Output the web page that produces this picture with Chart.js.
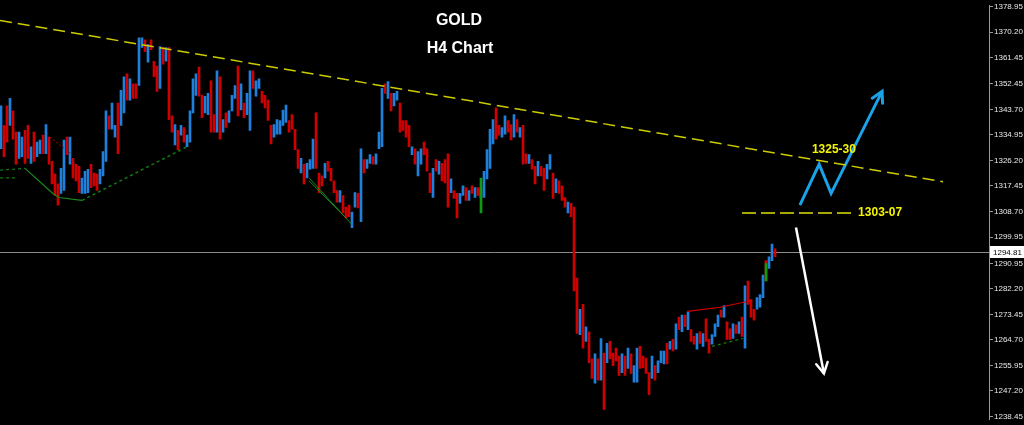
<!DOCTYPE html>
<html>
<head>
<meta charset="utf-8">
<title>GOLD H4 Chart</title>
<script src="https://cdn.jsdelivr.net/npm/chart.js@4.4.0/dist/chart.umd.min.js"></script>
<style>
  html, body { margin: 0; padding: 0; background: #000; }
  #wrap { width: 1024px; height: 425px; }
</style>
</head>
<body>
<div id="wrap"><canvas id="gold" width="1024" height="425"></canvas></div>
<script>
// H4 bars, oldest first (high / low / direction)
const barHigh = [
  1344.9,1338.2,1344.9,1347.5,1343.2,1335.9,1335.9,1334.2,1336.5,1338.2,
  1330.9,1335.9,1332.5,1333.2,1334.9,1338.5,1334.2,1325.9,1321.5,1318.2,
  1323.5,1333.2,1334.2,1334.2,1326.9,1324.9,1324.2,1320.2,1322.5,1323.2,
  1324.9,1321.9,1321.5,1323.2,1329.2,1343.2,1341.5,1345.9,1338.2,1345.9,
  1350.2,1354.9,1355.9,1354.2,1352.5,1352.5,1368.2,1368.2,1367.5,1365.9,
  1367.5,1360.2,1358.5,1365.2,1364.9,1364.9,1364.9,1341.5,1338.5,1336.5,
  1338.2,1337.5,1334.9,1343.2,1354.2,1355.9,1358.2,1348.5,1348.2,1349.2,
  1353.5,1341.9,1356.9,1354.9,1340.2,1342.5,1343.2,1348.5,1351.9,1358.5,
  1352.5,1345.9,1349.2,1356.9,1356.9,1353.5,1354.2,1349.9,1348.5,1346.9,
  1338.2,1338.5,1340.2,1339.9,1343.5,1345.2,1339.9,1341.9,1336.9,1329.9,
  1326.9,1324.9,1325.2,1326.5,1333.5,1342.5,1321.9,1320.9,1325.2,1325.9,
  1323.5,1319.2,1315.9,1315.9,1314.2,1310.2,1310.9,1308.5,1315.2,1314.9,
  1330.2,1326.5,1326.5,1328.2,1327.5,1328.5,1335.9,1350.9,1352.5,1353.2,
  1349.2,1349.2,1349.9,1345.9,1339.9,1339.9,1338.2,1330.9,1330.2,1329.2,
  1330.2,1332.5,1330.2,1321.9,1323.5,1326.5,1325.9,1325.2,1326.5,1328.5,
  1319.9,1315.9,1314.9,1314.9,1317.5,1316.9,1315.9,1317.5,1316.9,1316.9,
  1316.5,1322.5,1329.9,1336.9,1340.2,1344.2,1338.2,1337.5,1341.5,1339.9,
  1338.5,1341.9,1340.2,1337.5,1338.2,1328.5,1328.2,1326.5,1324.2,1325.9,
  1324.2,1323.5,1324.9,1328.2,1321.9,1319.9,1319.2,1317.5,1313.5,1311.9,
  1311.5,1310.2,1285.9,1275.2,1276.9,1269.2,1267.5,1258.2,1259.9,1258.2,
  1265.2,1260.2,1263.5,1264.2,1260.2,1261.9,1259.2,1259.9,1259.2,1261.9,
  1259.9,1255.9,1261.9,1262.5,1259.2,1258.5,1253.5,1259.2,1255.9,1257.5,
  1260.9,1260.9,1263.5,1264.2,1264.9,1270.2,1272.5,1273.2,1273.2,1274.2,
  1268.2,1265.9,1266.9,1267.5,1266.9,1271.9,1264.9,1266.5,1270.2,1273.2,
  1274.9,1276.5,1270.9,1268.5,1270.2,1269.9,1270.9,1272.5,1283.2,1284.9,
  1278.5,1275.2,1279.2,1280.2,1286.9,1291.9,1293.2,1297.5,1295.9
];
const barLow = [
  1330.2,1327.5,1332.5,1338.2,1333.5,1324.9,1326.9,1327.5,1325.2,1326.9,
  1325.2,1325.9,1327.5,1328.5,1328.5,1328.5,1324.9,1318.2,1314.2,1310.9,
  1314.9,1315.9,1328.2,1324.9,1320.2,1319.2,1315.2,1314.9,1314.9,1315.2,
  1316.9,1317.5,1315.9,1318.2,1320.9,1325.9,1336.9,1336.9,1334.2,1328.5,
  1338.2,1342.5,1346.9,1346.9,1347.5,1347.5,1351.9,1364.9,1363.5,1359.9,
  1364.2,1354.9,1349.9,1350.9,1359.2,1360.2,1340.2,1335.9,1331.5,1329.9,
  1334.9,1332.5,1330.9,1332.5,1342.5,1348.5,1348.2,1340.9,1342.5,1341.9,
  1335.9,1335.9,1335.9,1333.5,1335.9,1337.5,1339.2,1343.2,1347.5,1341.5,
  1343.5,1340.9,1341.9,1336.5,1350.9,1348.2,1350.9,1345.9,1344.2,1339.9,
  1331.9,1334.2,1335.2,1335.2,1338.2,1339.2,1335.9,1336.9,1329.9,1323.5,
  1321.9,1318.2,1320.2,1323.2,1323.5,1323.5,1315.2,1317.5,1320.2,1322.5,
  1319.2,1315.2,1311.9,1311.9,1308.2,1306.5,1306.9,1303.2,1310.2,1309.9,
  1305.2,1321.9,1323.5,1325.2,1324.9,1324.9,1330.2,1330.9,1349.2,1347.5,
  1343.2,1344.9,1346.9,1335.9,1336.5,1334.2,1330.9,1328.2,1324.9,1320.9,
  1324.9,1328.2,1322.5,1315.2,1313.5,1322.5,1321.5,1319.2,1318.5,1310.2,
  1315.2,1313.2,1306.5,1311.5,1314.2,1312.5,1312.5,1314.9,1313.5,1314.2,
  1313.5,1313.5,1319.9,1323.5,1331.9,1333.5,1334.9,1334.2,1335.2,1335.9,
  1333.2,1334.2,1335.9,1334.2,1324.9,1325.2,1325.2,1323.2,1318.2,1320.9,
  1320.9,1315.9,1319.9,1323.2,1313.2,1315.2,1314.9,1312.5,1310.2,1308.2,
  1306.9,1281.5,1266.9,1266.5,1261.9,1264.2,1256.9,1251.5,1249.9,1250.9,
  1250.9,1240.9,1256.9,1258.2,1255.9,1257.5,1252.5,1253.5,1252.5,1254.9,
  1253.2,1250.2,1250.2,1254.9,1255.2,1253.2,1245.9,1251.5,1250.9,1253.5,
  1256.9,1256.5,1256.5,1261.5,1260.9,1261.5,1268.2,1267.5,1269.2,1268.2,
  1264.2,1263.2,1261.5,1263.5,1262.5,1264.2,1260.2,1263.2,1265.9,1269.2,
  1272.5,1272.5,1264.9,1264.9,1265.2,1266.9,1266.9,1265.9,1261.9,1276.9,
  1272.5,1271.5,1275.2,1275.9,1279.2,1284.9,1289.2,1291.9,1293.2
];
const barUp = [
  1,0,0,1,0,0,1,1,0,0, 1,0,1,1,0,1,0,0,0,0, 1,1,0,1,0,0,0,1,1,1,
  0,0,0,1,1,1,0,1,1,0, 1,1,0,1,0,0,1,1,0,1, 0,0,0,1,0,1,0,0,1,0,
  1,0,1,1,1,1,0,0,1,1, 0,0,1,0,1,0,1,1,1,0, 1,0,1,1,0,1,1,0,0,0,
  0,1,1,1,1,1,0,0,0,0, 1,0,1,1,1,0,0,0,1,0, 0,0,0,1,0,0,0,1,1,0,
  1,0,1,1,0,1,1,1,0,1, 0,1,1,0,0,0,0,1,0,1, 1,0,0,0,1,0,1,0,0,0,
  1,0,0,1,1,0,1,0,1,0, 1,1,1,1,1,0,0,1,1,0, 0,1,0,1,0,0,1,0,0,1,
  0,0,1,1,0,1,0,0,0,1, 0,0,0,1,0,1,0,0,1,0, 1,0,1,0,0,0,0,1,0,1,
  0,1,1,0,0,0,0,1,0,1, 1,1,0,1,0,1,0,1,0,1, 0,0,1,0,1,0,0,1,1,1,
  0,1,0,0,1,0,1,0,1,0, 0,0,1,1,1,0,1,1,0
];

// green signal bars
const signalIdx = [160, 255];
const signalHigh = [1320.2, 1290.9];
const signalLow = [1308.2, 1284.9];

// right-hand price scale
const priceTicks = [1378.95, 1370.20, 1361.45, 1352.45, 1343.70, 1334.95, 1326.20, 1317.45,
  1308.70, 1299.95, 1290.95, 1282.20, 1273.45, 1264.70, 1255.95, 1247.20, 1238.45];
const lastPrice = 1294.81;

// drawn objects (bar index, price)
const trendX = [-0.33, 314];
const trendY = [1374.2, 1318.9];
const levelX = [247, 284.7];
const levelY = [1308.2, 1308.2];
const upPathX = [266.3, 272.7, 276.7, 293.7];
const upPathY = [1310.9, 1324.9, 1314.9, 1349.9];
const downPathX = [265, 274.3];
const downPathY = [1303.2, 1253.2];
const zoneText = ['1325-30', '1303-07'];
const zoneX = [270.3, 285.7];
const zoneY = [1329.9, 1308.2];

// indicator lines
const supA_X = [8, 17.3, 19.3, 27];
const supA_Y = [1323.5, 1314.9, 1313.5, 1312.5];
const supB_X = [27, 62];
const supB_Y = [1312.5, 1330.9];
const supC_X = [-0.3, 8];
const supC_Y = [1322.9, 1323.5];
const supD_X = [-0.3, 4.7];
const supD_Y = [1320.2, 1320.2];
const chanA_X = [102.7, 117];
const chanA_Y = [1320.2, 1304.2];
const chanB_X = [102.7, 115];
const chanB_Y = [1319.2, 1306.5];
const resA_X = [16.3, 23.7];
const resA_Y = [1334.2, 1328.2];
const resB_X = [228.7, 239.7, 250.3];
const resB_Y = [1274.5, 1275.9, 1278.2];
const supE_X = [237, 247.3];
const supE_Y = [1262.5, 1265.2];

const pts = (xs, ys) => xs.map((x, i) => ({ x: x, y: ys[i] }));

const lineSet = (xs, ys, color, width, dash, extra) => Object.assign({
  type: 'line',
  data: pts(xs, ys),
  borderColor: color,
  borderWidth: width,
  borderDash: dash,
  pointRadius: 0,
  fill: false,
  tension: 0,
  order: 1
}, extra || {});

const overlay = {
  id: 'overlay',
  beforeDatasetsDraw(chart) {
    const { ctx, chartArea, scales } = chart;
    const y = Math.round(scales.y.getPixelForValue(lastPrice)) + 0.5;
    ctx.save();
    ctx.strokeStyle = '#8c8c8c';
    ctx.lineWidth = 1;
    ctx.beginPath();
    ctx.moveTo(chartArea.left, y);
    ctx.lineTo(chartArea.right, y);
    ctx.stroke();
    ctx.restore();
  },
  afterDraw(chart) {
    const { ctx, chartArea, scales } = chart;
    ctx.save();

    // arrow heads at the end of the projected paths
    chart.data.datasets.forEach((ds, i) => {
      if (!ds.arrowHead) return;
      const p = chart.getDatasetMeta(i).data;
      const a = p[p.length - 2], b = p[p.length - 1];
      const ang = Math.atan2(b.y - a.y, b.x - a.x);
      ctx.strokeStyle = ds.borderColor;
      ctx.lineWidth = ds.borderWidth;
      ctx.lineCap = 'round';
      ctx.beginPath();
      ctx.moveTo(b.x - 12 * Math.cos(ang - 0.5), b.y - 12 * Math.sin(ang - 0.5));
      ctx.lineTo(b.x, b.y);
      ctx.lineTo(b.x - 12 * Math.cos(ang + 0.5), b.y - 12 * Math.sin(ang + 0.5));
      ctx.stroke();
    });

    // zone labels
    ctx.font = 'bold 12px "Liberation Sans", Arial, sans-serif';
    ctx.fillStyle = '#f4f400';
    ctx.textAlign = 'left';
    ctx.textBaseline = 'middle';
    zoneText.forEach((t, i) => {
      ctx.fillText(t, scales.x.getPixelForValue(zoneX[i]), scales.y.getPixelForValue(zoneY[i]));
    });

    // title
    ctx.fillStyle = '#ffffff';
    ctx.textAlign = 'center';
    ctx.font = 'bold 16px "Liberation Sans", Arial, sans-serif';
    ctx.fillText('GOLD', 459, 21);
    ctx.fillText('H4 Chart', 460, 49);

    // current price box
    const py = Math.round(scales.y.getPixelForValue(lastPrice));
    ctx.fillStyle = '#ffffff';
    ctx.fillRect(chartArea.right + 1, py - 6, 35, 12);
    ctx.fillStyle = '#000000';
    ctx.textAlign = 'left';
    ctx.font = '8px "Liberation Sans", Arial, sans-serif';
    ctx.fillText(lastPrice.toFixed(2), chartArea.right + 4, py + 0.5);
    ctx.restore();
  }
};

const blue = '#1f80dc';
const red = '#d00000';

new Chart(document.getElementById('gold'), {
  type: 'bar',
  data: {
    datasets: [
      lineSet(trendX, trendY, '#cccc00', 1.5, [12, 6]),
      lineSet(levelX, levelY, '#a8a800', 2, [14, 5]),
      lineSet(upPathX, upPathY, '#1aa2e8', 3, [], { arrowHead: true }),
      lineSet(downPathX, downPathY, '#ffffff', 2.5, [], { arrowHead: true }),
      lineSet(supA_X, supA_Y, '#1c8a1c', 1.2, []),
      lineSet(supB_X, supB_Y, '#137a13', 1.5, [3, 3]),
      lineSet(supC_X, supC_Y, '#137a13', 1.2, [3, 3]),
      lineSet(supD_X, supD_Y, '#137a13', 1.2, [3, 3]),
      lineSet(chanA_X, chanA_Y, '#1a8a1a', 1, []),
      lineSet(chanB_X, chanB_Y, '#1a8a1a', 1, []),
      lineSet(resA_X, resA_Y, '#c00000', 1, [2, 2]),
      lineSet(resB_X, resB_Y, '#d00000', 1.2, []),
      lineSet(supE_X, supE_Y, '#137a13', 1.2, [3, 3]),
      {
        label: 'signal',
        data: signalIdx.map((x, i) => ({ x: x, y: [signalLow[i], signalHigh[i]] })),
        backgroundColor: '#0f9a0f',
        barThickness: 2,
        grouped: false,
        order: 2
      },
      {
        label: 'XAUUSD H4',
        data: barHigh.map((h, i) => ({ x: i, y: [barLow[i], h] })),
        backgroundColor: barUp.map(u => (u ? blue : red)),
        barThickness: 2,
        grouped: false,
        order: 3
      }
    ]
  },
  options: {
    responsive: false,
    animation: false,
    layout: { padding: 0 },
    plugins: {
      legend: { display: false },
      tooltip: { enabled: false },
      title: { display: false }
    },
    scales: {
      x: {
        type: 'linear',
        display: false,
        offset: false,
        grid: { offset: false },
        min: -0.33,
        max: 329.33
      },
      y: {
        position: 'right',
        min: 1237.53,
        max: 1379.2,
        afterBuildTicks: s => { s.ticks = priceTicks.map(v => ({ value: v })); },
        afterFit: s => { s.width = 35; },
        grid: { drawOnChartArea: false, color: '#9a9a9a', tickLength: 4 },
        border: { color: '#9a9a9a' },
        ticks: {
          autoSkip: false,
          color: '#e8e8e8',
          padding: 1,
          font: { family: 'Liberation Sans', size: 8 },
          callback: v => v.toFixed(2)
        }
      }
    }
  },
  plugins: [overlay]
});
</script>
</body>
</html>
